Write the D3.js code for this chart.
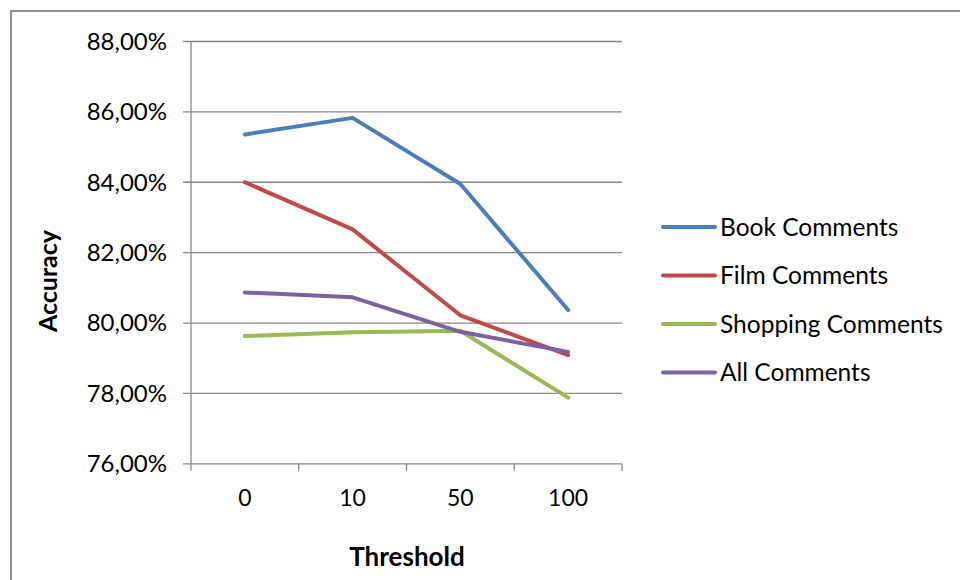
<!DOCTYPE html>
<html><head><meta charset="utf-8">
<script src="https://cdn.jsdelivr.net/npm/d3@7"></script>
<style>body{margin:0;background:#fff}svg{display:block}text{font-family:Lato,"Open Sans",sans-serif;fill:#000}</style>
</head><body><svg id="c" width="960" height="580"></svg>
<script>
const categories = ["0","10","50","100"];
const seriesNames = ["Book Comments","Film Comments","Shopping Comments","All Comments"];
const bookValues = [85.36, 85.83, 83.95, 80.37];
const filmValues = [84.00, 82.66, 80.22, 79.09];
const shoppingValues = [79.63, 79.74, 79.78, 77.88];
const allValues = [80.87, 80.73, 79.75, 79.18];
const yTicks = [76, 78, 80, 82, 84, 86, 88];
const colors = ["#4A7EBB", "#BE4B48", "#98B954", "#7D60A0"];
const series = [bookValues, filmValues, shoppingValues, allValues];

const svg = d3.select("#c");
svg.append("rect").attr("x",11).attr("y",11).attr("width",960).attr("height",580)
  .attr("fill","#fff").attr("stroke","#8c8c8c").attr("stroke-width",2);

const L=191, R=622, T=41.5, B=463.8;
const x = d3.scaleBand().domain(categories).range([L,R]);
const y = d3.scaleLinear().domain([76,88]).range([B,T]);

// gridlines
svg.append("g").selectAll("line").data(yTicks).join("line")
  .attr("x1",183).attr("x2",R).attr("y1",d=>y(d)).attr("y2",d=>y(d))
  .attr("stroke","#868686").attr("stroke-width",1.3);

// y axis
svg.append("line").attr("x1",L).attr("x2",L).attr("y1",T).attr("y2",B)
  .attr("stroke","#868686").attr("stroke-width",1.3);
svg.append("g").selectAll("text").data(yTicks).join("text")
  .attr("x",167).attr("y",d=>y(d)).attr("dy","0.35em").attr("text-anchor","end")
  .attr("font-size",24).text(d=>d.toFixed(2).replace(".",",")+"%");

// x axis ticks
const tickXs = categories.map(c=>x(c)).concat([R]);
svg.append("g").selectAll("line").data(tickXs).join("line")
  .attr("x1",d=>d).attr("x2",d=>d).attr("y1",B).attr("y2",B+7)
  .attr("stroke","#868686").attr("stroke-width",1.3);
svg.append("g").selectAll("text").data(categories).join("text")
  .attr("x",d=>x(d)+x.bandwidth()/2).attr("y",498).attr("dy","0.35em")
  .attr("text-anchor","middle").attr("font-size",23).text(d=>d);

// lines
const line = d3.line().x((d,i)=>x(categories[i])+x.bandwidth()/2).y(d=>y(d));
svg.append("g").selectAll("path").data(series).join("path")
  .attr("d",line).attr("fill","none").attr("stroke",(d,i)=>colors[i])
  .attr("stroke-width",4).attr("stroke-linejoin","round").attr("stroke-linecap","round");

// titles
svg.append("text").attr("transform","translate(48,281) rotate(-90)")
  .attr("text-anchor","middle").attr("dy","0.35em").attr("font-size",25).attr("font-weight","bold").text("Accuracy");
svg.append("text").attr("x",407).attr("y",557).attr("dy","0.35em")
  .attr("text-anchor","middle").attr("font-size",26).attr("font-weight","bold").text("Threshold");

// legend
const lg = svg.append("g").selectAll("g").data(seriesNames).join("g")
  .attr("transform",(d,i)=>`translate(0,${227+i*48.5})`);
lg.append("line").attr("x1",663).attr("x2",715).attr("stroke",(d,i)=>colors[i])
  .attr("stroke-width",4).attr("stroke-linecap","round");
lg.append("text").attr("x",720).attr("dy","0.35em").attr("font-size",24.5).text(d=>d);
</script></body></html>
